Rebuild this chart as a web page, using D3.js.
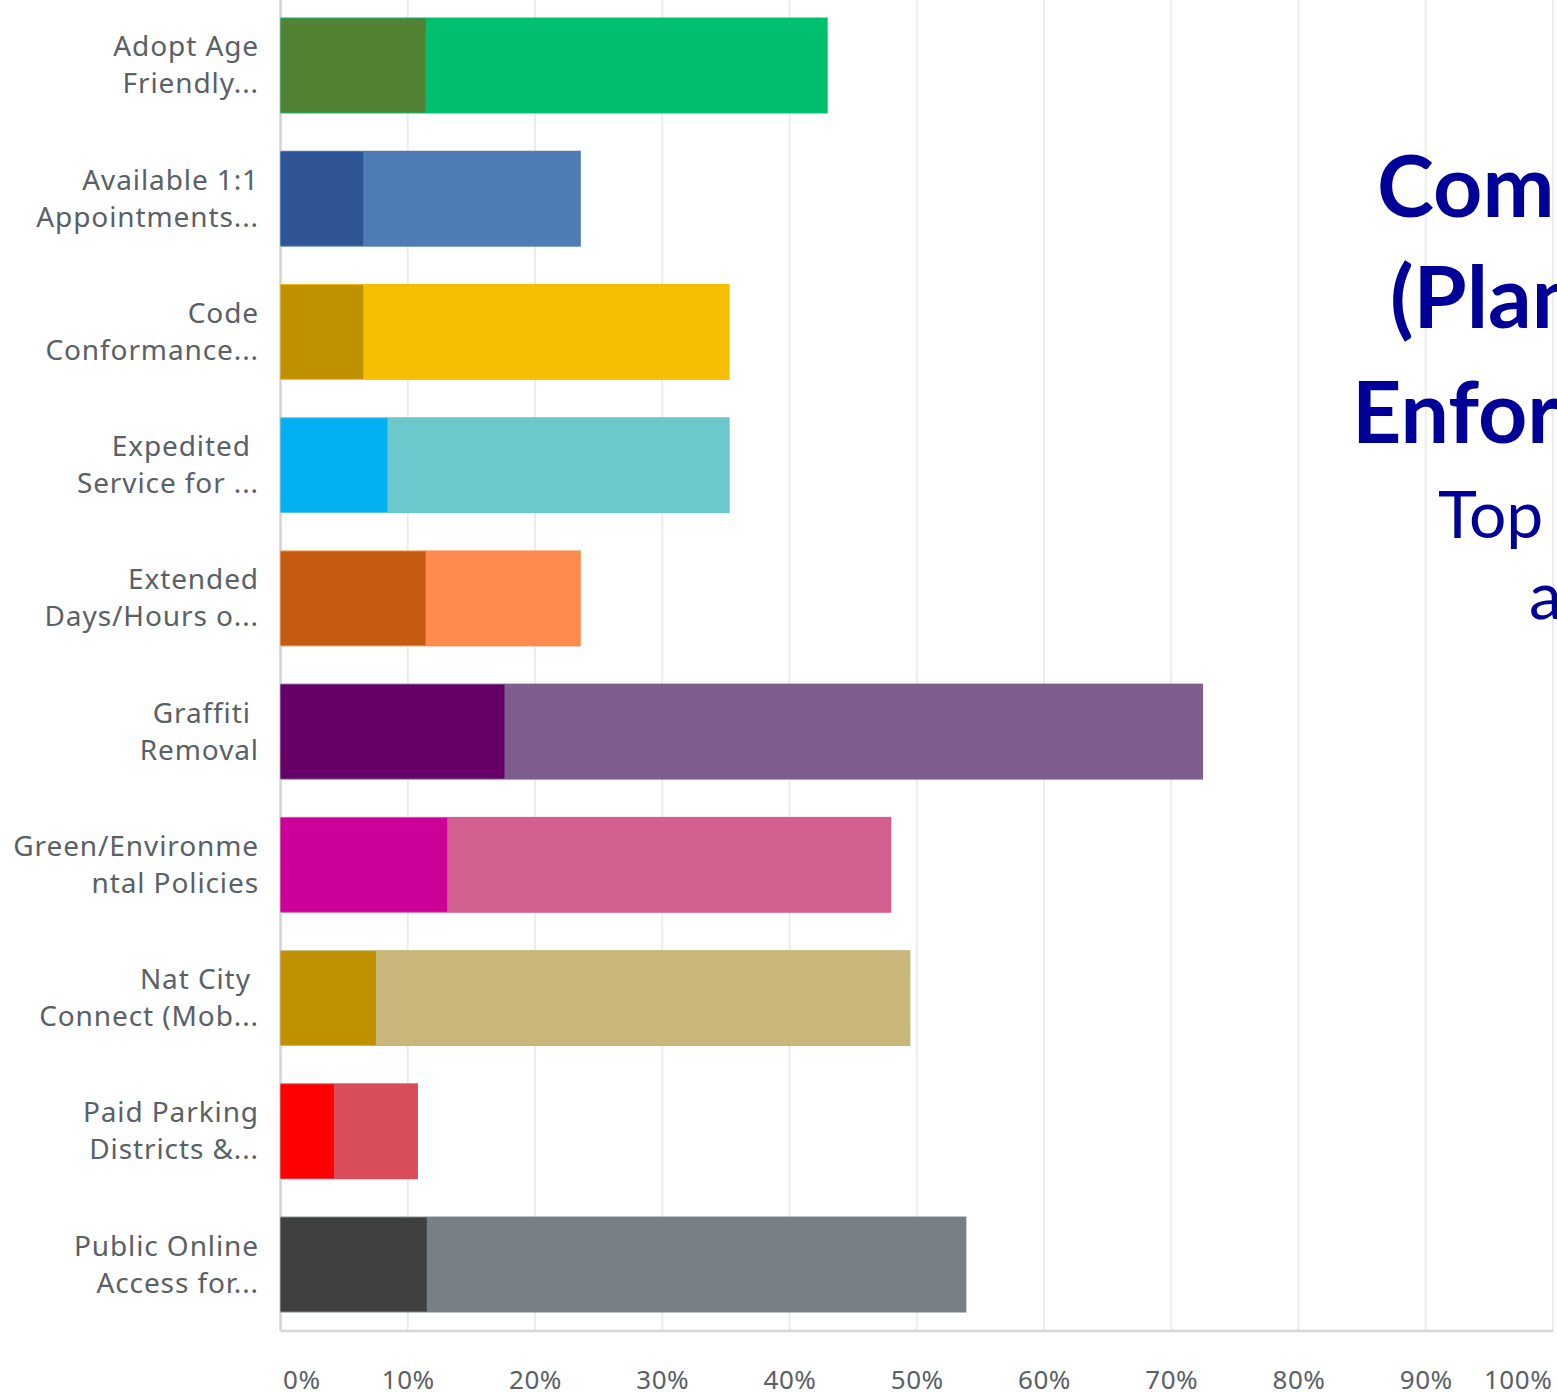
<!DOCTYPE html>
<html>
<head>
<meta charset="utf-8">
<script src="https://cdn.jsdelivr.net/npm/d3@7"></script>
<style>
  html, body { margin: 0; padding: 0; background: #fff; overflow: hidden; }
  svg { display: block; }
</style>
</head>
<body>
<svg id="chart" width="1557" height="1392"></svg>
<script>
// Survey options (labels are truncated the way the survey tool shows them)
const categories = [
  ["Adopt Age", "Friendly..."],
  ["Available 1:1", "Appointments..."],
  ["Code", "Conformance..."],
  ["Expedited ", "Service for ..."],
  ["Extended", "Days/Hours o..."],
  ["Graffiti ", "Removal"],
  ["Green/Environme", "ntal Policies"],
  ["Nat City ", "Connect (Mob..."],
  ["Paid Parking", "Districts &..."],
  ["Public Online", "Access for..."]
];

// Share of respondents (%) – all selections
const allSelections = [43.0, 23.6, 35.3, 35.3, 23.6, 72.5, 48.0, 49.5, 10.8, 53.9];
// Share of respondents (%) – top choice
const topChoice = [11.4, 6.5, 6.5, 8.4, 11.4, 17.6, 13.1, 7.5, 4.2, 11.5];

const lightColors = ["#00bf6f", "#507cb6", "#f6be00", "#6bc8cd", "#ff8b4f",
                     "#7d5e8e", "#d25f90", "#c8b67a", "#d94d5b", "#768086"];
const darkColors  = ["#548235", "#2f5597", "#bf9000", "#00b0f0", "#c55a11",
                     "#660066", "#cc0099", "#bf9000", "#ff0000", "#404040"];

const xTicks = [0, 10, 20, 30, 40, 50, 60, 70, 80, 90, 100];

const titleLines = [
  { text: "Community Development", bold: true },
  { text: "(Planning & Code", bold: true },
  { text: "Enforcement)", bold: true },
  { text: "Top Priorities", bold: false },
  { text: "and Rankings", bold: false }
];

const svg = d3.select("#chart");

const x = d3.scaleLinear().domain([0, 100]).range([280.5, 1553]);
const y = d3.scaleBand()
  .domain(d3.range(categories.length))
  .range([-1, 1331])
  .paddingInner(0.28)
  .paddingOuter(0.139);

const labelFont = "'Noto Sans', sans-serif";
const labelColor = "#596066";

// vertical grid lines
svg.append("g")
  .selectAll("line")
  .data(xTicks.slice(1))
  .join("line")
  .attr("x1", d => x(d)).attr("x2", d => x(d))
  .attr("y1", 0).attr("y2", 1331)
  .attr("stroke", "#ececec")
  .attr("stroke-width", 2);

// axis frame (left and bottom)
svg.append("line")
  .attr("x1", x(0)).attr("x2", x(0))
  .attr("y1", 0).attr("y2", 1331)
  .attr("stroke", "#d3d3d3").attr("stroke-width", 2.5);
svg.append("line")
  .attr("x1", x(0)).attr("x2", x(100))
  .attr("y1", 1331).attr("y2", 1331)
  .attr("stroke", "#d6d6d6").attr("stroke-width", 2.5);

// all selections (lighter, longer bars)
svg.append("g")
  .selectAll("rect")
  .data(allSelections)
  .join("rect")
  .attr("x", x(0))
  .attr("y", (d, i) => y(i))
  .attr("width", d => x(d) - x(0))
  .attr("height", y.bandwidth())
  .attr("fill", (d, i) => lightColors[i]);

// top choice (darker bars drawn on top)
svg.append("g")
  .selectAll("rect")
  .data(topChoice)
  .join("rect")
  .attr("x", x(0))
  .attr("y", (d, i) => y(i) + 1)
  .attr("width", d => x(d) - x(0))
  .attr("height", y.bandwidth() - 2)
  .attr("fill", (d, i) => darkColors[i]);

// category labels, two lines each
const labels = svg.append("g")
  .attr("font-family", labelFont)
  .attr("font-size", 28)
  .attr("letter-spacing", 0.9)
  .attr("fill", labelColor)
  .attr("text-anchor", "end")
  .style("white-space", "pre");

categories.forEach((lines, i) => {
  const cy = y(i) + y.bandwidth() / 2;
  const t = labels.append("text").attr("x", 259);
  t.append("tspan").attr("x", 259).attr("y", cy - 9).text(lines[0]);
  t.append("tspan").attr("x", 259).attr("y", cy + 28).text(lines[1]);
});

// x axis tick labels
const xAxis = d3.axisBottom(x)
  .tickValues(xTicks)
  .tickFormat(d => d + "%")
  .tickSize(0)
  .tickPadding(0);

const axisG = svg.append("g")
  .attr("transform", "translate(0,1331)")
  .call(xAxis);
axisG.select(".domain").remove();
axisG.selectAll("text")
  .attr("font-family", labelFont)
  .attr("font-size", 26)
  .attr("letter-spacing", 0.6)
  .attr("fill", labelColor)
  .attr("dy", null)
  .attr("y", 58);
// keep the end labels inside the plot frame
axisG.selectAll(".tick")
  .filter(d => d === 0).select("text")
  .attr("text-anchor", "start").attr("x", 2);
axisG.selectAll(".tick")
  .filter(d => d === 100).select("text")
  .attr("text-anchor", "end").attr("x", -1);

// slide title
const titleColor = "#000099";
const titlePos = [
  { x: 1377, y: 217, size: 86 },
  { x: 1390, y: 328, size: 86 },
  { x: 1352, y: 443, size: 86 },
  { x: 1438, y: 538, size: 66 },
  { x: 1529, y: 619, size: 66 }
];
svg.append("g")
  .selectAll("text")
  .data(titleLines)
  .join("text")
  .attr("x", (d, i) => titlePos[i].x)
  .attr("y", (d, i) => titlePos[i].y)
  .attr("font-family", "Lato, 'Open Sans', sans-serif")
  .attr("font-size", (d, i) => titlePos[i].size)
  .attr("font-weight", d => d.bold ? 700 : 400)
  .attr("fill", titleColor)
  .text(d => d.text);
</script>
</body>
</html>
